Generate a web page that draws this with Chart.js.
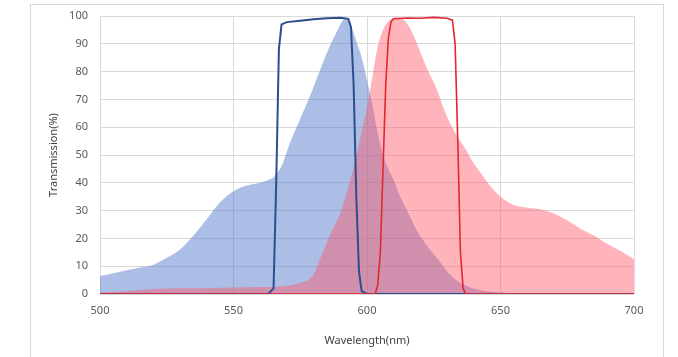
<!DOCTYPE html>
<html><head><meta charset="utf-8">
<script src="https://cdn.jsdelivr.net/npm/chart.js@4/dist/chart.umd.min.js"></script>
<style>html,body{margin:0;padding:0;background:#fff;}#wrap{width:678px;height:357px;}</style>
</head><body><div id="wrap"><canvas id="c" width="678" height="357"></canvas></div>
<script>
const xTicks = [500, 550, 600, 650, 700];
const yTicks = [0, 10, 20, 30, 40, 50, 60, 70, 80, 90, 100];

const excWl  = [500,505,510,515,520,525,530,535,540,545,550,555,560,563,565,568,571,575,579,583,586,589,591,592,594,596,598,600,602,604,606,608,610,612,615,618,622,627,631,635,640,645,655,700];
const excVal = [6.5,7.5,8.5,9.5,10.5,13,16,21,27,33,37,39,40,41,42,46,54,63,72,82,89,95,98.5,99,96.5,91,85,77,68,58,50,45,41,36,30,24,18,12,7,4,2,1,0.3,0];

const emWl  = [500,510,520,540,560,570,575,578,580,583,587,590,594,597,600,602,604,606,608,611,614,617,620,623,626,629,633,637,640,643,646,650,655,660,665,670,675,680,685,690,695,700];
const emVal = [0.5,1,1.8,2.2,2.5,3,4,5,7,14,23,29,42,54,67,78,89,95,98,99.5,98.5,94,87,80,74,66,58,52,47,43,39,35,32,31,30.5,29,26.5,23.5,21,18,15.5,12.5];

const exFilterWl  = [500,563,565,566,567,568,570,575,580,585,590,593,594,595,596,597,598,600,700];
const exFilterVal = [0,0,2,40,88,97,97.8,98.3,98.8,99.2,99.4,99,96,75,35,8,1,0,0];

const emFilterWl  = [500,603,604,605,606,607,608,609,610,615,620,625,630,632,633,634,635,636,637,700];
const emFilterVal = [0,0,3,15,45,75,92,98,99,99.3,99.2,99.5,99.2,98.5,90,55,15,2,0,0];

const pts = (xs, ys) => xs.map((x, i) => ({x: x, y: ys[i]}));

const frame = {
  id: 'frame',
  beforeDraw(chart) {
    const ctx = chart.ctx;
    ctx.save();
    ctx.fillStyle = '#fff';
    ctx.fillRect(0, 0, chart.width, chart.height);
    ctx.strokeStyle = '#d9d9d9';
    ctx.lineWidth = 1;
    ctx.strokeRect(30.5, 4.5, 633, 360);
    ctx.restore();
  }
};

const font = {family: 'Noto Sans, Open Sans, sans-serif', size: 11};

new Chart(document.getElementById('c'), {
  type: 'line',
  data: {
    datasets: [
      {data: pts(exFilterWl, exFilterVal), borderColor: '#2b4f8e', borderWidth: 2, fill: false, pointRadius: 0, order: 1},
      {data: pts(emFilterWl, emFilterVal), borderColor: '#e3262f', borderWidth: 1.6, fill: false, pointRadius: 0, order: 0},
      {data: pts(excWl, excVal), borderWidth: 0, borderColor: 'rgba(0,0,0,0)', backgroundColor: 'rgba(90,125,205,0.5)', fill: 'origin', pointRadius: 0, cubicInterpolationMode: 'monotone', order: 3},
      {data: pts(emWl, emVal), borderWidth: 0, borderColor: 'rgba(0,0,0,0)', backgroundColor: 'rgba(255,85,100,0.44)', fill: 'origin', pointRadius: 0, cubicInterpolationMode: 'monotone', order: 2}
    ]
  },
  options: {
    responsive: false,
    animation: false,
    events: [],
    layout: {padding: {left: 38, right: 44, top: 16, bottom: 0}},
    plugins: {legend: {display: false}, tooltip: {enabled: false}},
    scales: {
      x: {
        type: 'linear', min: 500, max: 700,
        afterBuildTicks: s => { s.ticks = xTicks.map(v => ({value: v})); },
        afterFit: s => { s.height = 63; },
        grid: {color: '#d9d9d9', drawTicks: false},
        border: {display: false},
        ticks: {font: font, color: '#595959', padding: 10, maxRotation: 0},
        title: {display: true, text: 'Wavelength(nm)', font: font, color: '#404040', padding: {top: 6, bottom: 10}}
      },
      y: {
        min: 0, max: 100,
        afterBuildTicks: s => { s.ticks = yTicks.map(v => ({value: v})); },
        afterFit: s => { s.width = 62; s.paddingTop = 0; s.paddingBottom = 0; },
        grid: {color: '#d9d9d9', drawTicks: false},
        border: {display: false},
        ticks: {font: font, color: '#595959', padding: 12},
        title: {display: true, text: 'Transmission(%)', font: font, color: '#404040', padding: {top: 9, bottom: 0}}
      }
    }
  },
  plugins: [frame]
});
</script>
</body></html>
